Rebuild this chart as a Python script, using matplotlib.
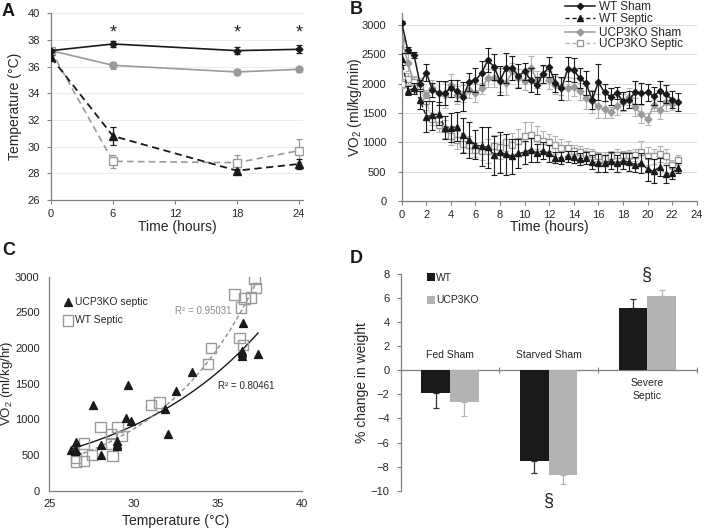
import numpy as np
import matplotlib
matplotlib.use("Agg")
import matplotlib.pyplot as plt
from matplotlib.lines import Line2D

plt.rcParams['font.family'] = ['Liberation Sans', 'DejaVu Sans']
plt.rcParams['mathtext.default'] = 'regular'

BLACK = '#1a1a1a'
GRAY = '#9a9a9a'
LGRAY = '#b3b3b3'
SPINE = '#7f7f7f'
TXT = '#262626'

# ---------------- Panel A data ----------------
a_time = [0, 6, 18, 24]
a_wt_sham = [37.2, 37.7, 37.2, 37.3]
a_wt_sham_err = [0.15, 0.25, 0.25, 0.3]
a_ko_sham = [37.2, 36.1, 35.6, 35.8]
a_ko_sham_err = [0.15, 0.25, 0.25, 0.2]
a_wt_sep = [36.7, 30.8, 28.2, 28.7]
a_wt_sep_err = [0.15, 0.7, 0.15, 0.35]
a_ko_sep = [37.2, 28.9, 28.8, 29.7]
a_ko_sep_err = [0.2, 0.5, 0.6, 0.85]
a_star_x = [6, 18, 24]

# ---------------- Panel B data ----------------
b_time = [i * 0.5 for i in range(46)]
b_wt_sham = [3040, 2570, 2490, 1990, 2190, 1900, 1840, 1840, 1920, 1880,
             1780, 2030, 2060, 2180, 2400, 2290, 2050, 2270, 2270, 2130,
             2210, 2060, 1970, 2170, 2280, 2010, 1920, 2250, 2230, 2090,
             2010, 1720, 2030, 1850, 1780, 1840, 1700, 1730, 1850, 1840,
             1850, 1790, 1870, 1820, 1730, 1690]
b_wt_sham_err = [30, 50, 50, 80, 150, 120, 200, 200, 150, 180,
                 250, 150, 200, 200, 200, 220, 250, 250, 200, 200,
                 150, 200, 150, 150, 170, 150, 200, 200, 200, 170,
                 200, 150, 300, 150, 150, 100, 150, 150, 200, 180,
                 150, 150, 170, 150, 150, 150]
b_ko_sham = [2750, 2360, 2010, 2000, 1800, 1920, 1840, 1810, 1970, 1810,
             1830, 1900, 1840, 1920, 2100, 2090, 2060, 2010, 2210, 2100,
             2040, 2270, 2070, 2160, 2060, 1980, 1950, 1920, 1940, 1870,
             1760, 1700, 1620, 1560, 1510, 1620, 1680, 1780, 1600, 1480,
             1400, 1630, 1550, 1680, 1650]
b_ko_sham_err = [70, 150, 100, 100, 100, 150, 200, 220, 200, 150,
                 150, 150, 150, 100, 150, 150, 200, 200, 150, 150,
                 150, 200, 150, 150, 150, 150, 150, 200, 150, 150,
                 200, 200, 200, 150, 100, 150, 150, 150, 150, 150,
                 100, 100, 150, 150, 100]
b_wt_sep = [2420, 1880, 1920, 1720, 1440, 1460, 1490, 1250, 1250, 1270,
            1120, 1040, 960, 930, 920, 780, 830, 800, 760, 810,
            830, 870, 820, 860, 810, 740, 730, 760, 750, 720,
            730, 660, 650, 640, 690, 640, 680, 660, 620, 640,
            540, 510, 580, 460, 480, 560]
b_wt_sep_err = [100, 80, 100, 150, 270, 250, 200, 200, 250, 250,
                300, 300, 250, 330, 350, 330, 350, 350, 300, 250,
                200, 200, 150, 150, 150, 100, 100, 100, 100, 100,
                100, 120, 150, 150, 150, 150, 130, 150, 130, 170,
                200, 200, 150, 150, 100, 80]
b_ko_sep = [2000, 2080, 2030, 1920, 1700, 1400, 1300, 1230, 1100, 1040,
            980, 960, 870, 850, 850, 930, 920, 1000, 960, 1020,
            1100, 1120, 1080, 1020, 1000, 950, 900, 900, 860, 830,
            800, 800, 760, 740, 760, 790, 780, 790, 780, 830,
            770, 760, 800, 770, 620, 700]
b_ko_sep_err = [80, 100, 100, 150, 150, 100, 120, 150, 150, 150,
                150, 150, 120, 150, 200, 200, 200, 150, 200, 200,
                250, 230, 200, 170, 150, 150, 150, 120, 100, 100,
                100, 80, 80, 100, 100, 100, 80, 80, 100, 200,
                150, 130, 130, 120, 80, 80]
b_labels = ['WT Sham', 'WT Septic', 'UCP3KO Sham', 'UCP3KO Septic']

# ---------------- Panel C data ----------------
c_ko_temp = [26.3, 26.6, 26.6, 26.5, 27.6, 28.1, 28.1, 29.0, 29.0, 29.0,
             29.55, 29.7, 29.85, 31.9, 32.05, 32.55, 33.5, 36.5, 36.45, 36.45,
             36.45, 37.4]
c_ko_vo2 = [565, 680, 570, 550, 1200, 640, 500, 700, 650, 620,
            1020, 1480, 980, 1150, 800, 1395, 1665, 2350, 1960, 1925,
            1890, 1910]
c_wt_temp = [26.6, 26.6, 27.05, 27.05, 27.55, 28.05, 28.65, 28.65, 28.75, 29.05,
             29.3, 31.05, 31.55, 34.45, 34.6, 36.3, 36.5, 36.0, 36.4, 36.6,
             37.0, 37.2, 37.3]
c_wt_vo2 = [410, 455, 660, 415, 505, 895, 790, 660, 485, 890,
            765, 1200, 1235, 1775, 2005, 2145, 2040, 2750, 2570, 2695,
            2710, 2965, 2845]
c_r2_wt = "R² = 0.95031"
c_r2_ko = "R² = 0.80461"

# ---------------- Panel D data ----------------
d_cats = ["Fed Sham", "Starved Sham", "Severe\nSeptic"]
d_wt = [-1.85, -7.55, 5.2]
d_wt_err = [1.3, 0.95, 0.75]
d_ko = [-2.6, -8.7, 6.15]
d_ko_err = [1.2, 0.75, 0.5]

fig = plt.figure(figsize=(7.05, 5.29), dpi=100)

def style_axes(ax):
    for s in ['top', 'right']:
        ax.spines[s].set_visible(False)
    for s in ['left', 'bottom']:
        ax.spines[s].set_color(SPINE)
        ax.spines[s].set_linewidth(0.9)
    ax.tick_params(colors=SPINE, labelcolor=TXT, labelsize=8, length=3, width=0.8)

def place_labels(ax, xl, yl, xy=None, yx=None, fs=10):
    if xl is not None:
        ax.set_xlabel(xl, fontsize=10, color=TXT)
        ax.xaxis.label.set_va('center')
        ax.xaxis.set_label_coords(0.5, xy)
    ax.set_ylabel(yl, fontsize=fs, color=TXT)
    ax.yaxis.label.set_va('center')
    ax.yaxis.label.set_ha('center')
    ax.yaxis.set_label_coords(yx, 0.5)

# ================= Panel A =================
axA = fig.add_axes([51/705, 1-200/529, 252/705, (200-13.3)/529])
style_axes(axA)
axA.tick_params(axis='y', pad=5)
axA.set_xlim(0, 24.4)
axA.set_ylim(26, 40)
axA.set_yticks(range(26, 41, 2))
axA.set_xticks([0, 6, 12, 18, 24])
axA.grid(axis='y', color='#ececec', lw=0.7)
axA.set_axisbelow(True)
ek = dict(capsize=2.5, elinewidth=0.9, capthick=0.9)
axA.errorbar(a_time, a_wt_sham, yerr=a_wt_sham_err, color=BLACK, marker='D', ms=3.5, lw=1.2, ecolor=BLACK, **ek, zorder=5)
axA.errorbar(a_time, a_ko_sham, yerr=a_ko_sham_err, color=GRAY, marker='o', ms=5, lw=1.2, ecolor=GRAY, **ek, zorder=4)
axA.errorbar(a_time, a_wt_sep, yerr=a_wt_sep_err, color=BLACK, marker='^', ms=6, lw=1.3, ls=(0, (4, 2.5)), ecolor=BLACK, **ek, zorder=5)
axA.errorbar(a_time, a_ko_sep, yerr=a_ko_sep_err, color=GRAY, marker='s', ms=6, mfc='white', mec=GRAY, lw=1.2, ls=(0, (4, 2.5)), ecolor=GRAY, **ek, zorder=4)
for x in a_star_x:
    axA.text(x, 38.5, '*', ha='center', va='center', fontsize=13, color=TXT)
place_labels(axA, 'Time (hours)', 'Temperature (°C)', xy=-0.143, yx=-0.143)

# ================= Panel B =================
axB = fig.add_axes([401.7/705, 1-201/529, 295/705, (201-13.3)/529])
style_axes(axB)
axB.tick_params(axis='y', pad=8)
axB.set_xlim(0, 24)
axB.set_ylim(0, 3200)
axB.set_yticks(range(0, 3001, 500))
axB.set_xticks(range(0, 25, 2))
axB.grid(axis='y', color='#dcdcdc', lw=0.7)
axB.set_axisbelow(True)
ekb = dict(capsize=2.2, elinewidth=0.8, capthick=0.8)
axB.errorbar(b_time[:len(b_ko_sham)], b_ko_sham, yerr=b_ko_sham_err, color=GRAY, marker='D', ms=3.5, lw=1.1, ecolor=LGRAY, **ekb, zorder=3)
axB.errorbar(b_time, b_ko_sep, yerr=b_ko_sep_err, color=LGRAY, marker='s', ms=5, mfc='white', mec=GRAY, lw=1.0, ls=(0, (3, 2)), ecolor=LGRAY, **ekb, zorder=3)
axB.errorbar(b_time, b_wt_sham, yerr=b_wt_sham_err, color=BLACK, marker='D', ms=3.2, lw=1.1, ecolor=BLACK, **ekb, zorder=4)
axB.errorbar(b_time, b_wt_sep, yerr=b_wt_sep_err, color=BLACK, marker='^', ms=4.5, lw=1.0, ls=(0, (3, 2)), ecolor=BLACK, **ekb, zorder=4)
place_labels(axB, 'Time (hours)', 'VO$_2$ (ml/kg/min)', xy=-0.137, yx=-0.158)
lh = [Line2D([], [], color=BLACK, marker='D', ms=3.2, lw=1.1),
      Line2D([], [], color=BLACK, marker='^', ms=4.5, lw=1.0, ls=(0, (3, 2))),
      Line2D([], [], color=GRAY, marker='D', ms=3.5, lw=1.1),
      Line2D([], [], color=LGRAY, marker='s', ms=5, mfc='white', mec=GRAY, lw=1.0, ls=(0, (3, 2)))]
row_y = [7.0, 19.0, 32.7, 43.8]
for h, lab, ry in zip(lh, b_labels, row_y):
    fig.legend([h], [lab], loc='center left', bbox_to_anchor=(565/705, 1-ry/529),
               frameon=False, fontsize=8.5, handlelength=2.55, handletextpad=0.3,
               borderpad=0, borderaxespad=0, labelcolor=TXT)

# ================= Panel C =================
axC = fig.add_axes([49.3/705, 1-490.7/529, 252.4/705, (490.7-276.7)/529])
style_axes(axC)
axC.tick_params(axis='y', pad=7, length=0)
axC.tick_params(axis='x', length=0, pad=6)
axC.set_xlim(25, 40)
axC.set_ylim(0, 3000)
axC.set_xticks([25, 30, 35, 40])
axC.set_yticks(range(0, 3001, 500))
axC.scatter(c_ko_temp, c_ko_vo2, marker='^', s=32, color=BLACK, zorder=4, label='UCP3KO septic')
axC.scatter(c_wt_temp, c_wt_vo2, marker='s', s=55, facecolor='none', edgecolor=GRAY, lw=1.0, zorder=3, label='WT Septic')
# exponential trendlines fitted to the data
bk, ak = np.polyfit(c_ko_temp, np.log(c_ko_vo2), 1)
bw, aw = np.polyfit(c_wt_temp, np.log(c_wt_vo2), 1)
xk = np.linspace(min(c_ko_temp), max(c_ko_temp), 100)
xw = np.linspace(min(c_wt_temp), max(c_wt_temp), 100)
axC.plot(xk, np.exp(ak + bk * xk), color=BLACK, lw=1.0, zorder=2)
axC.plot(xw, np.exp(aw + bw * xw), color='#8c8c8c', lw=1.0, ls=(0, (3, 2)), zorder=2)
axC.text(32.45, 2520, c_r2_wt, fontsize=7, color='#8c8c8c', va='center')
axC.text(35.0, 1470, c_r2_ko, fontsize=7, color=TXT, va='center')
axC.legend(loc='upper left', bbox_to_anchor=(0.03, 0.93), frameon=False, fontsize=7.5,
           handletextpad=0.0, labelspacing=0.8, borderpad=0, handlelength=1.2, labelcolor=TXT)
place_labels(axC, 'Temperature (°C)', 'VO$_2$ (ml/kg/hr)', xy=-0.14, yx=-0.168, fs=9.5)

# ================= Panel D =================
axD = fig.add_axes([400.7/705, 1-490.7/529, 296/705, (490.7-274)/529])
style_axes(axD)
axD.tick_params(axis='y', pad=5)
axD.spines['bottom'].set_position(('data', 0))
axD.set_xlim(-0.5, 2.5)
axD.set_ylim(-10, 8)
axD.set_yticks(range(-10, 9, 2))
axD.set_xticks([0.5, 1.5, 2.5])
axD.set_xticklabels([])
axD.tick_params(axis='x', direction='inout', length=5)
x = np.arange(len(d_cats))
w = 0.29
axD.bar(x - w/2, d_wt, w, color=BLACK, label='WT', zorder=3)
axD.bar(x + w/2, d_ko, w, color=LGRAY, label='UCP3KO', zorder=3)
for i in range(len(d_cats)):
    yerr = [[d_wt_err[i]], [0]] if d_wt[i] < 0 else [[0], [d_wt_err[i]]]
    axD.errorbar(x[i] - w/2, d_wt[i], yerr=yerr, color='#333333', capsize=2.5, elinewidth=0.9, capthick=0.9, zorder=2)
    yerr = [[d_ko_err[i]], [0]] if d_ko[i] < 0 else [[0], [d_ko_err[i]]]
    axD.errorbar(x[i] + w/2, d_ko[i], yerr=yerr, color=LGRAY, capsize=2.5, elinewidth=0.9, capthick=0.9, zorder=2)
axD.text(0, 1.27, d_cats[0], ha='center', va='center', fontsize=7.5, color=TXT)
axD.text(1, 1.27, d_cats[1], ha='center', va='center', fontsize=7.5, color=TXT)
axD.text(2, -1.6, d_cats[2], ha='center', va='center', fontsize=7.5, color=TXT, linespacing=1.3)
axD.text(2, 7.9, '§', ha='center', va='center', fontsize=13, color=TXT)
axD.text(1, -10.9, '§', ha='center', va='center', fontsize=13, color=TXT, clip_on=False)
axD.legend(loc='upper left', bbox_to_anchor=(0.07, 1.03), frameon=False, fontsize=7.5,
           handlelength=0.8, handleheight=0.8, handletextpad=0.1, labelspacing=1.2, borderpad=0, labelcolor=TXT)
place_labels(axD, None, '% change in weight', yx=-0.13)

# Panel letters
for lbl, (px, py) in {'A': (2, 3), 'B': (350, 1), 'C': (2, 242), 'D': (350, 250)}.items():
    fig.text(px/705, 1-py/529, lbl, fontsize=13, fontweight='bold', ha='left', va='top', color=BLACK)

fig.savefig('out.png', dpi=100)
